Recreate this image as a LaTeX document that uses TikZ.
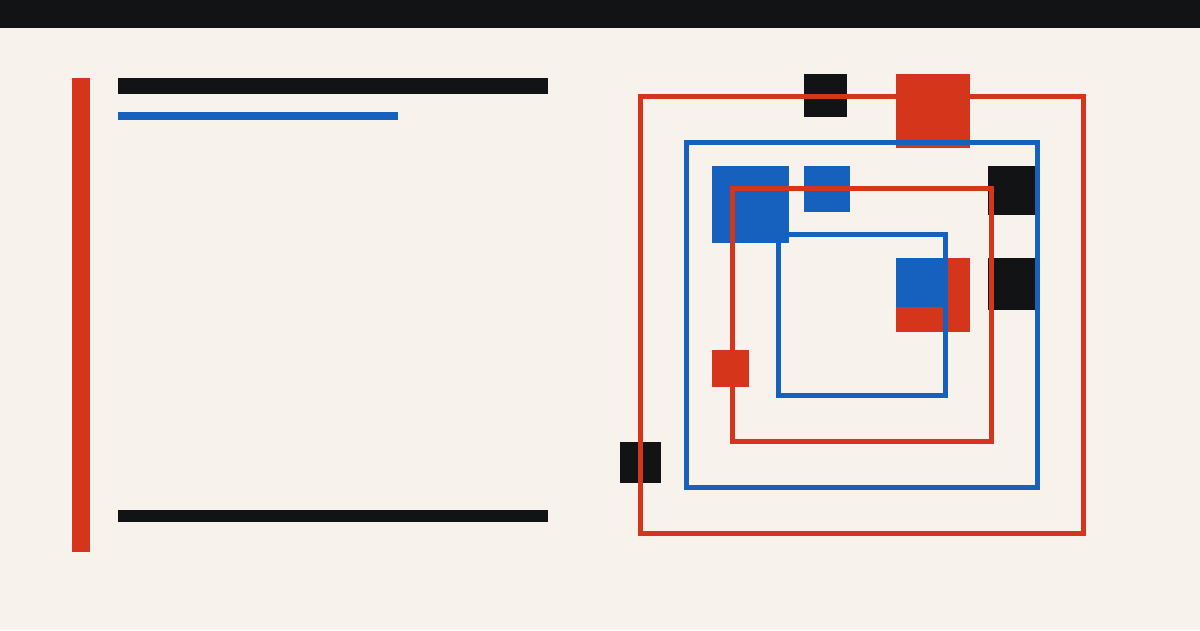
\documentclass[tikz,border=0pt]{standalone}
\usetikzlibrary{arrows}

\definecolor{paper}{RGB}{247,243,236}
\definecolor{ink}{RGB}{18,19,21}
\definecolor{signal}{RGB}{213,53,27}
\definecolor{cobalt}{RGB}{22,97,189}

\begin{document}
\begin{tikzpicture}[x=1pt, y=-1pt]

\tikzstyle{redblock}=[fill=signal]
\tikzstyle{blueblock}=[fill=cobalt]
\tikzstyle{blackblock}=[fill=ink]
\tikzstyle{redframe}=[draw=signal, line width=4.5pt]
\tikzstyle{blueframe}=[draw=cobalt, line width=4.5pt]

% page
\fill[paper] (0,0) rectangle (1200,630);
\useasboundingbox (0,0) rectangle (1200,630);
\fill[blackblock] (0,0) rectangle (1200,28);

% left column
\fill[redblock] (72,78) rectangle (90,552);
\fill[blackblock] (118,78) rectangle (548,94);
\fill[blueblock] (118,112) rectangle (398,120);
\fill[blackblock] (118,510) rectangle (548,522);

% blocks
\fill[blackblock] (804,74) rectangle (847,117);
\fill[redblock] (896,74) rectangle (970,148);
\fill[blueblock] (712,166) rectangle (789,243);
\fill[blueblock] (804,166) rectangle (850,212);
\fill[blackblock] (988,166) rectangle (1035,215);
\fill[blackblock] (988,258) rectangle (1035,310);
\fill[redblock] (896,258) rectangle (970,332);
\fill[blueblock] (896,258) rectangle (945,307);
\fill[redblock] (712,350) rectangle (749,387);
\fill[blackblock] (620,442) rectangle (661,483);

% frames
\draw[redframe] (640.5,96.5) rectangle (1083.5,533.5);
\draw[blueframe] (686.5,142.5) rectangle (1037.5,487.5);
\draw[redframe] (732.5,188.5) rectangle (991.5,441.5);
\draw[blueframe] (778.5,234.5) rectangle (945.5,395.5);

\end{tikzpicture}
\end{document}
